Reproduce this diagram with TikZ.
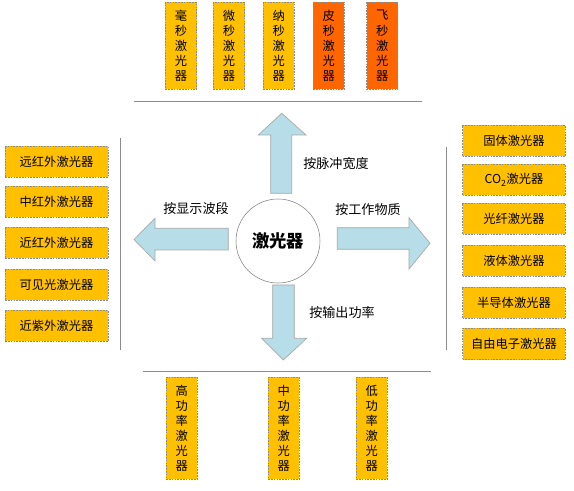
\documentclass[tikz,border=0pt]{standalone}
\usepackage{fontspec}
\setmainfont{Noto Sans CJK SC}
\usetikzlibrary{calc, positioning}

\definecolor{boxyellow}{HTML}{FFC000}
\definecolor{boxorange}{HTML}{FF6600}
\definecolor{arrowblue}{HTML}{B7DEE8}
\definecolor{linegray}{HTML}{8C8C8C}

\tikzset{
  laserbox/.style={draw=linegray, dashed, dash pattern=on 1.2pt off 0.9pt, fill=boxyellow,
    inner sep=0pt, font=\fontsize{9.2}{11.3}\selectfont, align=center},
  hbox/.style={laserbox, minimum width=77pt, minimum height=23.5pt},
  vbox/.style={laserbox, minimum width=23.3pt},
  bigarrow/.style={draw=gray!70, fill=arrowblue, line width=0.5pt},
  sortlabel/.style={font=\fontsize{9.8}{12}\selectfont, inner sep=0pt},
  divider/.style={draw=linegray, line width=0.6pt}
}

\begin{document}
\begin{tikzpicture}[x=0.75pt, y=-0.75pt]
    \useasboundingbox (0,0) rectangle (574,491);

    % centre
    \node[circle, draw=gray, fill=white, minimum size=63pt, inner sep=0pt,
      font=\fontsize{13}{15}\selectfont\bfseries] (laser) at (278,241) {激光器};

    % arrows
    \draw[bigarrow] (270.7,193.3) -- (270.7,135) -- (258.3,135) -- (281.7,113.3)
      -- (306,135) -- (291.7,135) -- (291.7,193.3) -- cycle;
    \draw[bigarrow] (272.7,285) -- (272.7,338.3) -- (261.7,338.3) -- (283.3,360)
      -- (306.7,338.3) -- (294.3,338.3) -- (294.3,285) -- cycle;
    \draw[bigarrow] (228.3,228.3) -- (155,228.3) -- (155,218.3) -- (134,239.5)
      -- (155,261) -- (155,250) -- (228.3,250) -- cycle;
    \draw[bigarrow] (337.3,227.7) -- (409,227.7) -- (409,217.7) -- (430,243.3)
      -- (409,269) -- (409,249.3) -- (337.3,249.3) -- cycle;

    \node[sortlabel] (pulse) at (336,164) {按脉冲宽度};
    \node[sortlabel] (band) at (196,209) {按显示波段};
    \node[sortlabel] (medium) at (368,210) {按工作物质};
    \node[sortlabel] (power) at (342,313) {按输出功率};

    % dividers
    \draw[divider] (134,101.3) -- (422.3,101.3);
    \draw[divider] (142.7,371.3) -- (430.7,371.3);
    \draw[divider] (120.3,138.3) -- (120.3,350);
    \draw[divider] (446,146.7) -- (446,350);

    % pulse width
    \node[vbox, minimum height=65pt] (milli) at (181,45.8) {毫\\秒\\激\\光\\器};
    \node[vbox, minimum height=65pt] (micro) at (229,45.8) {微\\秒\\激\\光\\器};
    \node[vbox, minimum height=65pt] (nano) at (278.8,45.8) {纳\\秒\\激\\光\\器};
    \node[vbox, minimum height=65pt, fill=boxorange] (pico) at (328.8,45.8) {皮\\秒\\激\\光\\器};
    \node[vbox, minimum height=65pt, fill=boxorange] (femto) at (382.2,45.8) {飞\\秒\\激\\光\\器};

    % wavelength band
    \node[hbox] (farir) at (56.5,161.7) {远红外激光器};
    \node[hbox] (midir) at (56.5,201.7) {中红外激光器};
    \node[hbox] (nearir) at (56.5,242.8) {近红外激光器};
    \node[hbox] (visible) at (56.5,284.5) {可见光激光器};
    \node[hbox] (nearuv) at (56.5,325.8) {近紫外激光器};

    % working medium
    \node[hbox] (solid) at (514,140.8) {固体激光器};
    \node[hbox] (cotwo) at (514,179.8) {CO\textsubscript{2}激光器};
    \node[hbox] (fibre) at (514,218.8) {光纤激光器};
    \node[hbox] (liquid) at (514,260.7) {液体激光器};
    \node[hbox] (semi) at (514,302.8) {半导体激光器};
    \node[hbox] (fel) at (514,344) {自由电子激光器};

    % output power
    \node[vbox, minimum height=76.3pt] (high) at (181.7,428.2) {高\\功\\率\\激\\光\\器};
    \node[vbox, minimum height=76.3pt] (mid) at (283.8,428.2) {中\\功\\率\\激\\光\\器};
    \node[vbox, minimum height=76.3pt] (low) at (371.7,428.2) {低\\功\\率\\激\\光\\器};
\end{tikzpicture}
\end{document}
